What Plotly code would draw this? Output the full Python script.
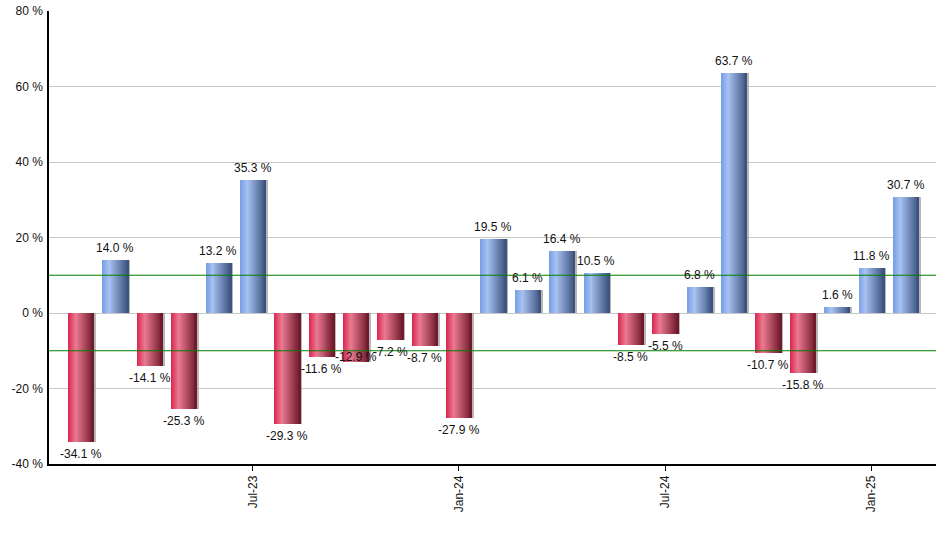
import plotly.graph_objects as go

months = ["Feb-23","Mar-23","Apr-23","May-23","Jun-23","Jul-23","Aug-23","Sep-23","Oct-23","Nov-23","Dec-23",
          "Jan-24","Feb-24","Mar-24","Apr-24","May-24","Jun-24","Jul-24","Aug-24","Sep-24","Oct-24","Nov-24","Dec-24",
          "Jan-25","Feb-25"]
values = [-34.1, 14.0, -14.1, -25.3, 13.2, 35.3, -29.3, -11.6, -12.9, -7.2, -8.7, -27.9, 19.5, 6.1, 16.4, 10.5,
          -8.5, -5.5, 6.8, 63.7, -10.7, -15.8, 1.6, 11.8, 30.7]
tick_months = ["Jul-23", "Jan-24", "Jul-24", "Jan-25"]
y_ticks = [-40, -20, 0, 20, 40, 60, 80]
thresholds = [10, -10]

red_stops = [(0.0, (218, 36, 78)), (0.3, (234, 122, 146)), (1.0, (108, 22, 40))]
blue_stops = [(0.0, (118, 156, 230)), (0.28, (168, 194, 242)), (1.0, (58, 80, 124))]

def interp(stops, t):
    for (p0, c0), (p1, c1) in zip(stops[:-1], stops[1:]):
        if p0 <= t <= p1:
            f = (t - p0) / (p1 - p0)
            return "rgb(%d,%d,%d)" % tuple(round(a + (b - a) * f) for a, b in zip(c0, c1))
    return "rgb(%d,%d,%d)" % stops[-1][1]

FONT = "Liberation Sans, Arial, sans-serif"
fig = go.Figure()
bar_w = 0.75
n_slices = 26
sw = bar_w / n_slices

# shadow
fig.add_trace(go.Bar(x=months, y=values, width=bar_w, offset=-bar_w / 2 + 0.06,
                     marker=dict(color="rgba(165,165,165,0.8)", line=dict(width=0)),
                     hoverinfo="skip", showlegend=False))
# gradient: each slice extends to the right edge, drawn left to right so no seams appear
for k in range(n_slices):
    t = (k + 0.5) / n_slices
    colors = [interp(red_stops, t) if v < 0 else interp(blue_stops, t) for v in values]
    fig.add_trace(go.Bar(x=months, y=values, width=bar_w - k * sw, offset=-bar_w / 2 + k * sw,
                         marker=dict(color=colors, line=dict(width=0)),
                         hoverinfo="skip", showlegend=False))

# label placement tweaks (the reference's collision avoidance moved one label up)
label_shift = {8: 17}
for i, (m, v) in enumerate(zip(months, values)):
    base = -3 if v < 0 else 3
    fig.add_annotation(x=m, y=v, text="%.1f %%" % v, showarrow=False,
                       yanchor="top" if v < 0 else "bottom",
                       yshift=base + label_shift.get(i, 0),
                       font=dict(family=FONT, size=12, color="#111111"))

for th in thresholds:
    fig.add_shape(type="line", xref="paper", x0=0, x1=1, yref="y", y0=th, y1=th,
                  line=dict(color="#008000", width=1.2), layer="above")

fig.update_layout(
    width=940, height=550,
    margin=dict(l=49, r=4, t=9, b=86),
    paper_bgcolor="white", plot_bgcolor="white",
    barmode="overlay", bargap=0,
    font=dict(family=FONT, size=12, color="#111111"),
    xaxis=dict(type="category", range=[-0.93, 24.88], tickmode="array", tickvals=tick_months,
               ticktext=tick_months, tickangle=-90, ticks="outside", ticklen=5, tickcolor="black",
               showline=True, linecolor="black", linewidth=1.5, showgrid=False, zeroline=False,
               tickfont=dict(size=12)),
    yaxis=dict(range=[-40, 80], tickvals=y_ticks, ticktext=["%d %%" % v for v in y_ticks],
               showgrid=True, gridcolor="#c8c8c8", gridwidth=1, zeroline=True, zerolinecolor="#c8c8c8",
               zerolinewidth=1, showline=True, linecolor="black", linewidth=1.5, ticks="",
               ticklabelstandoff=2, tickfont=dict(size=12)),
)

fig.write_html("out.html")
